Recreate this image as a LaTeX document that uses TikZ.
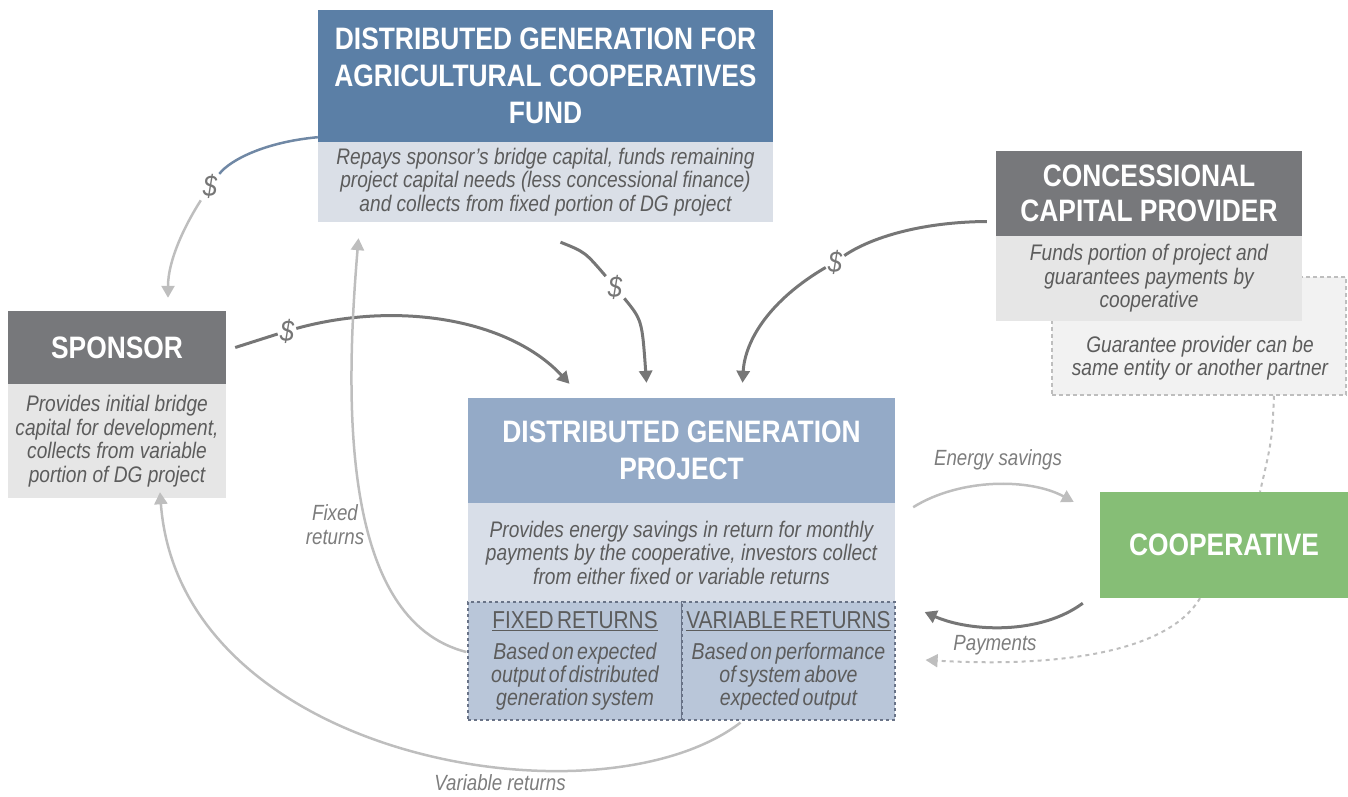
\documentclass[tikz,border=0pt]{standalone}
\usepackage{fontspec}
\setmainfont{Liberation Sans}[FakeStretch=0.85]
\usetikzlibrary{arrows.meta}
\definecolor{fundblue}{RGB}{91,127,166}
\definecolor{fundpale}{RGB}{218,223,231}
\definecolor{projblue}{RGB}{148,170,199}
\definecolor{projpale}{RGB}{216,222,232}
\definecolor{retblue}{RGB}{185,198,217}
\definecolor{retdash}{RGB}{105,115,135}
\definecolor{headgray}{RGB}{119,120,123}
\definecolor{palegray}{RGB}{230,230,230}
\definecolor{guarfill}{RGB}{242,242,242}
\definecolor{coopgreen}{RGB}{134,190,118}
\definecolor{bodytext}{RGB}{92,92,92}
\definecolor{labeltext}{RGB}{125,125,125}
\definecolor{darkline}{RGB}{118,118,118}
\definecolor{lightline}{RGB}{190,190,190}
\definecolor{fundline}{RGB}{112,136,165}
\tikzset{
  headbox/.style={text=white,font=\fontsize{31}{37}\selectfont\bfseries,align=center,inner sep=0pt},
  bodybox/.style={text=bodytext,font=\fontsize{22.5}{23.5}\selectfont\itshape,align=center,inner sep=0pt},
  retbox/.style={fill=retblue,draw=retdash,line width=1.2pt,dash pattern=on 3pt off 3pt,minimum height=118,text width=210,align=center,inner sep=0pt,text=bodytext},
  flowlabel/.style={text=labeltext,font=\fontsize{22}{24}\selectfont\itshape,align=center,inner sep=0pt},
  darkarrow/.style={draw=darkline,line width=3pt,-{Triangle[length=12pt,width=13pt]}},
  lightarrow/.style={draw=lightline,line width=2.5pt,-{Triangle[length=12pt,width=13pt]}},
  dashline/.style={draw=lightline,line width=2pt,dash pattern=on 4pt off 4pt}
}
\newcommand{\money}[3]{
\node[fill=white,inner sep=2pt,text=darkline,font=\fontsize{30}{30}\selectfont\itshape] (#1) at (#2,#3) {\$};
}
\begin{document}
\begin{tikzpicture}[x=1pt,y=-1pt]
\useasboundingbox (0,0) rectangle (1348,797);

\node[headbox,fill=fundblue,minimum width=455,minimum height=132] (fundhead) at (545.5,76) {DISTRIBUTED GENERATION FOR\\AGRICULTURAL COOPERATIVES\\FUND};
\node[bodybox,fill=fundpale,minimum width=455,minimum height=80] (fundbody) at (545.5,182) {Repays sponsor's bridge capital, funds remaining\\project capital needs (less concessional finance)\\and collects from fixed portion of DG project};

\node[headbox,fill=headgray,minimum width=218,minimum height=73] (sponhead) at (117,347.5) {SPONSOR};
\node[bodybox,fill=palegray,minimum width=218,minimum height=114] (sponbody) at (117,441) {Provides initial bridge\\capital for development,\\collects from variable\\portion of DG project};

\node[draw=lightline,fill=guarfill,line width=1.5pt,dash pattern=on 4pt off 3pt,minimum width=294,minimum height=118] (guar) at (1199,336) {};
\node[bodybox] (guartext) at (1200,358) {Guarantee provider can be\\same entity or another partner};
\node[headbox,fill=headgray,minimum width=306,minimum height=85,font=\fontsize{31}{35}\selectfont\bfseries] (conchead) at (1149,193.5) {CONCESSIONAL\\CAPITAL PROVIDER};
\node[bodybox,fill=palegray,minimum width=306,minimum height=85] (concbody) at (1149,278.5) {Funds portion of project and\\guarantees payments by\\cooperative};

\node[headbox,fill=projblue,minimum width=427,minimum height=105] (projhead) at (681.5,450.5) {DISTRIBUTED GENERATION\\PROJECT};
\node[bodybox,fill=projpale,minimum width=427,minimum height=99] (projbody) at (681.5,552.5) {Provides energy savings in return for monthly\\payments by the cooperative, investors collect\\from either fixed or variable returns};
\node[retbox,minimum width=214] (fixret) at (575,661) {\fontsize{24.5}{27}\selectfont\underline{FIXED RETURNS}\par\vspace{7pt}\fontsize{23}{23.5}\selectfont\itshape Based on expected\\output of distributed\\generation system};
\node[retbox,minimum width=213] (varret) at (788.5,661) {\fontsize{24.5}{27}\selectfont\underline{VARIABLE RETURNS}\par\vspace{7pt}\fontsize{23}{23.5}\selectfont\itshape Based on performance\\of system above\\expected output};

\node[headbox,fill=coopgreen,minimum width=248,minimum height=106] (coop) at (1224,545) {COOPERATIVE};

\money{d1}{210}{186}
\money{d2}{287}{331}
\money{d3}{615}{287}
\money{d4}{835}{262}

\draw[fundline,line width=2.5pt] ([yshift=5pt]fundhead.south west) .. controls (265,142) and (230,160) .. (d1);
\draw[lightarrow] (d1) .. controls (185,225) and (168,260) .. ([xshift=51pt,yshift=13pt]sponhead.north);
\draw[darkline,line width=3pt] ([xshift=9pt]sponhead.east) -- (d2);
\draw[darkarrow] (d2) .. controls (400,300) and (510,320) .. ([xshift=-112pt,yshift=14pt]projhead.north);
\draw[darkline,line width=3pt] ([xshift=15pt,yshift=-20pt]fundbody.south) .. controls (585,252) .. (d3);
\draw[darkarrow] (d3) .. controls (642,320) .. ([xshift=-35pt,yshift=15pt]projhead.north);
\draw[darkline,line width=3pt] ([xshift=-9pt,yshift=-28pt]conchead.west) .. controls (920,222) and (870,238) .. (d4);
\draw[darkarrow] (d4) .. controls (770,300) and (745,340) .. ([xshift=61pt,yshift=15pt]projhead.north);

\draw[lightarrow] ([xshift=-1pt,yshift=9pt]fixret.west) .. controls (340,620) and (345,400) .. ([xshift=-187pt,yshift=-16pt]fundbody.south);
\draw[lightarrow] ([xshift=-48pt,yshift=-2pt]varret.south) .. controls (600,830) and (180,760) .. ([xshift=43pt,yshift=6pt]sponbody.south);
\draw[lightarrow] ([xshift=18pt,yshift=-4pt]projhead.south east) .. controls (960,478) and (1030,478) .. ([xshift=-26pt,yshift=43pt]coop.west);
\draw[darkarrow] ([xshift=-17pt,yshift=-5pt]coop.south west) .. controls (1040,635) and (970,632) .. ([xshift=29pt,yshift=49pt]varret.east);
\draw[dashline,-{Triangle[length=12pt,width=13pt]}] ([xshift=-24pt]coop.south) .. controls (1160,665) and (1010,665) .. ([xshift=30pt,yshift=1pt]varret.east);
\draw[dashline] ([xshift=75pt]guar.south) .. controls (1272,440) .. ([xshift=36pt]coop.north);

\node[flowlabel] (fixlabel) at (335,525) {Fixed\\returns};
\node[flowlabel] (varlabel) at (500,783) {Variable returns};
\node[flowlabel] (savlabel) at (998,460) {Energy savings};
\node[flowlabel] (paylabel) at (995,645) {Payments};

\end{tikzpicture}
\end{document}
